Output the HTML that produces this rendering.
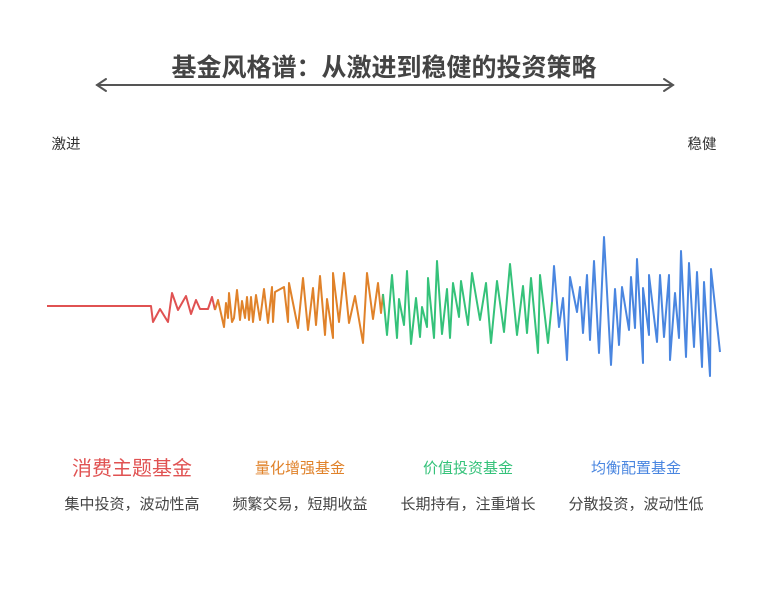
<!DOCTYPE html>
<html><head><meta charset="utf-8"><style>
body{margin:0;background:#fff;}
svg text{font-family:"Liberation Sans","Noto Sans CJK SC",sans-serif;}
</style></head><body>
<svg width="768" height="588" viewBox="0 0 768 588" xmlns="http://www.w3.org/2000/svg">
<text x="384" y="76" text-anchor="middle" font-size="25" font-weight="bold" fill="#444">基金风格谱：从激进到稳健的投资策略</text>
<g stroke="#555" stroke-width="2" fill="none" stroke-linecap="round">
<line x1="97" y1="85" x2="673" y2="85"/>
<polyline points="106,79 97,85 106,91"/>
<polyline points="664,79 673,85 664,91"/>
</g>
<text x="66" y="149" text-anchor="middle" font-size="14.5" fill="#333">激进</text>
<text x="702" y="149" text-anchor="middle" font-size="14.5" fill="#333">稳健</text>
<g fill="none" stroke-width="2" stroke-linejoin="round">
<polyline stroke="#e05252" points="47,306 151,306 153,322 160,309 168,322 172,293 178,310 186,296 191,314 196,300 200,309 208,309 212,297 215,310"/>
<polyline stroke="#e0822a" points="215,310 218,300 224,327 226,303 228,318 229,293 232,322 234,318 237,290 240,320 242,301 245,318 247,297 249,320 251,297 253,322 256,295 260,320 264,289 268,323 272,287 273,322 275,292 284,287 288,322 289,283 298,328 303,278 308,330 313,288 316,325 320,276 325,335 327,299 333,338 333,273 339,322 344,273 349,323 355,296 363,343 367,273 373,319 378,283 381,313 383,294"/>
<polyline stroke="#35c27a" points="383,294 387,335 392,275 397,338 399,299 404,325 407,271 411,344 416,298 420,337 422,307 427,327 428,278 434,338 437,261 442,334 447,289 450,338 453,283 459,317 461,281 468,325 472,273 480,320 486,283 491,343 497,281 504,332 510,264 517,335 523,286 527,333 531,278 538,353 540,275 548,343 552,302"/>
<polyline stroke="#4a86e0" points="552,302 554,266 559,327 563,298 567,360 570,277 577,312 580,287 583,333 587,275 590,340 594,261 599,353 604,237 611,365 615,289 619,345 622,287 629,330 631,277 635,328 637,259 643,363 643,288 649,335 649,275 657,342 660,275 664,337 669,275 670,360 675,293 679,338 681,251 686,357 689,263 694,347 697,272 702,367 704,282 710,376 711,269 720,352"/>
</g>
<text x="132" y="475" text-anchor="middle" font-size="20" fill="#e05252">消费主题基金</text>
<text x="300" y="473" text-anchor="middle" font-size="15" fill="#e0822a">量化增强基金</text>
<text x="468" y="473" text-anchor="middle" font-size="15" fill="#35c27a">价值投资基金</text>
<text x="636" y="473" text-anchor="middle" font-size="15" fill="#4a86e0">均衡配置基金</text>
<g font-size="15" fill="#444" text-anchor="middle">
<text x="132" y="509">集中投资，波动性高</text>
<text x="300" y="509">频繁交易，短期收益</text>
<text x="468" y="509">长期持有，注重增长</text>
<text x="636" y="509">分散投资，波动性低</text>
</g>
</svg>
</body></html>
